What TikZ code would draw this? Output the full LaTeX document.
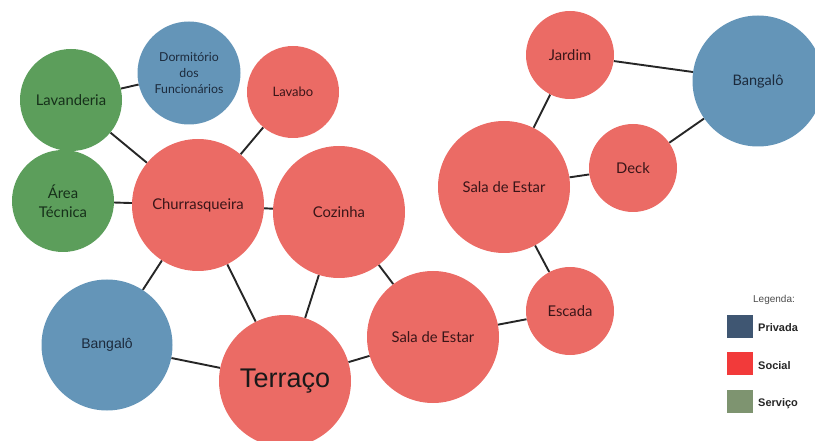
\documentclass[tikz,border=0pt]{standalone}
\usepackage{fontspec}
\setmainfont{Lato}
\newfontfamily\helv{Liberation Sans}
\usetikzlibrary{backgrounds}
\definecolor{socialc}{HTML}{EB6B65}
\definecolor{privc}{HTML}{6495B8}
\definecolor{servc}{HTML}{5C9E5B}
\definecolor{legpriv}{HTML}{3F5672}
\definecolor{legsoc}{HTML}{F23A3A}
\definecolor{legserv}{HTML}{7E9470}
\definecolor{txtsoc}{HTML}{3A1518}
\definecolor{txtpriv}{HTML}{1C2A3C}
\definecolor{txtserv}{HTML}{16301A}
\tikzset{
  room/.style={circle, inner sep=0pt, minimum size=#1, align=center, font=\fontsize{14.8}{17}\selectfont},
  soc/.style={room=#1, fill=socialc, text=txtsoc},
  priv/.style={room=#1, fill=privc, text=txtpriv},
  serv/.style={room=#1, fill=servc, text=txtserv},
  link/.style={draw=black!85, line width=1.9pt},
  legbox/.style={minimum width=26pt, minimum height=23pt, inner sep=0pt},
  leglabel/.style={anchor=west, inner sep=0pt, font=\helv\bfseries\fontsize{11}{13}\selectfont, text=black!85}
}
\begin{document}
\begin{tikzpicture}[x=1pt,y=-1pt]
\useasboundingbox (0,0) rectangle (815,441);
\node[serv=102pt] (lav) at (71,100) {Lavanderia};
\node[priv=103pt, font=\fontsize{12.3}{16}\selectfont] (dorm) at (189,73) {Dormitório\\dos\\Funcionários};
\node[soc=92pt, font=\fontsize{13}{15}\selectfont] (lavabo) at (293,92) {Lavabo};
\node[serv=102pt, font=\fontsize{14.8}{19}\selectfont] (area) at (63,201) {Área\\Técnica};
\node[soc=132pt] (churr) at (198,205) {Churrasqueira};
\node[soc=132pt] (coz) at (339,212) {Cozinha};
\node[priv=131pt, font=\helv\fontsize{14}{16}\selectfont] (bangl) at (107,345) {Bangalô};
\node[soc=132pt, font=\helv\fontsize{27}{30}\selectfont, text=black!90] (terr) at (285,381) {Terraço};
\node[soc=132pt] (salal) at (433,337) {Sala de Estar};
\node[soc=88pt] (escada) at (570,311) {Escada};
\node[soc=132pt] (salau) at (504,187) {Sala de Estar};
\node[soc=88pt] (jardim) at (570,55) {Jardim};
\node[soc=88pt] (deck) at (633,168) {Deck};
\node[priv=131pt, font=\fontsize{14.5}{16}\selectfont] (bangr) at (758,81) {Bangalô};
\begin{scope}[on background layer]
\draw[link] (lav) -- (dorm);
\draw[link] (lav) -- (churr);
\draw[link] (area) -- (churr);
\draw[link] (churr) -- (lavabo);
\draw[link] (churr) -- (coz);
\draw[link] (churr) -- (bangl);
\draw[link] (churr) -- (terr);
\draw[link] (coz) -- (terr);
\draw[link] (coz) -- (salal);
\draw[link] (bangl) -- (terr);
\draw[link] (terr) -- (salal);
\draw[link] (salal) -- (escada);
\draw[link] (escada) -- (salau);
\draw[link] (salau) -- (jardim);
\draw[link] (salau) -- (deck);
\draw[link] (jardim) -- (bangr);
\draw[link] (deck) -- (bangr);
\end{scope}
\node[inner sep=0pt, font=\helv\fontsize{10}{12}\selectfont, text=black!70] (legt) at (774,300) {Legenda:};
\node[legbox, fill=legpriv] (bp) at (740,326) {};
\node[legbox, fill=legsoc] (bs) at (740,363) {};
\node[legbox, fill=legserv] (bv) at (740,401) {};
\node[leglabel] (lp) at (758,328) {Privada};
\node[leglabel] (ls) at (758,366) {Social};
\node[leglabel] (lv) at (758,404) {Serviço};
\end{tikzpicture}
\end{document}
